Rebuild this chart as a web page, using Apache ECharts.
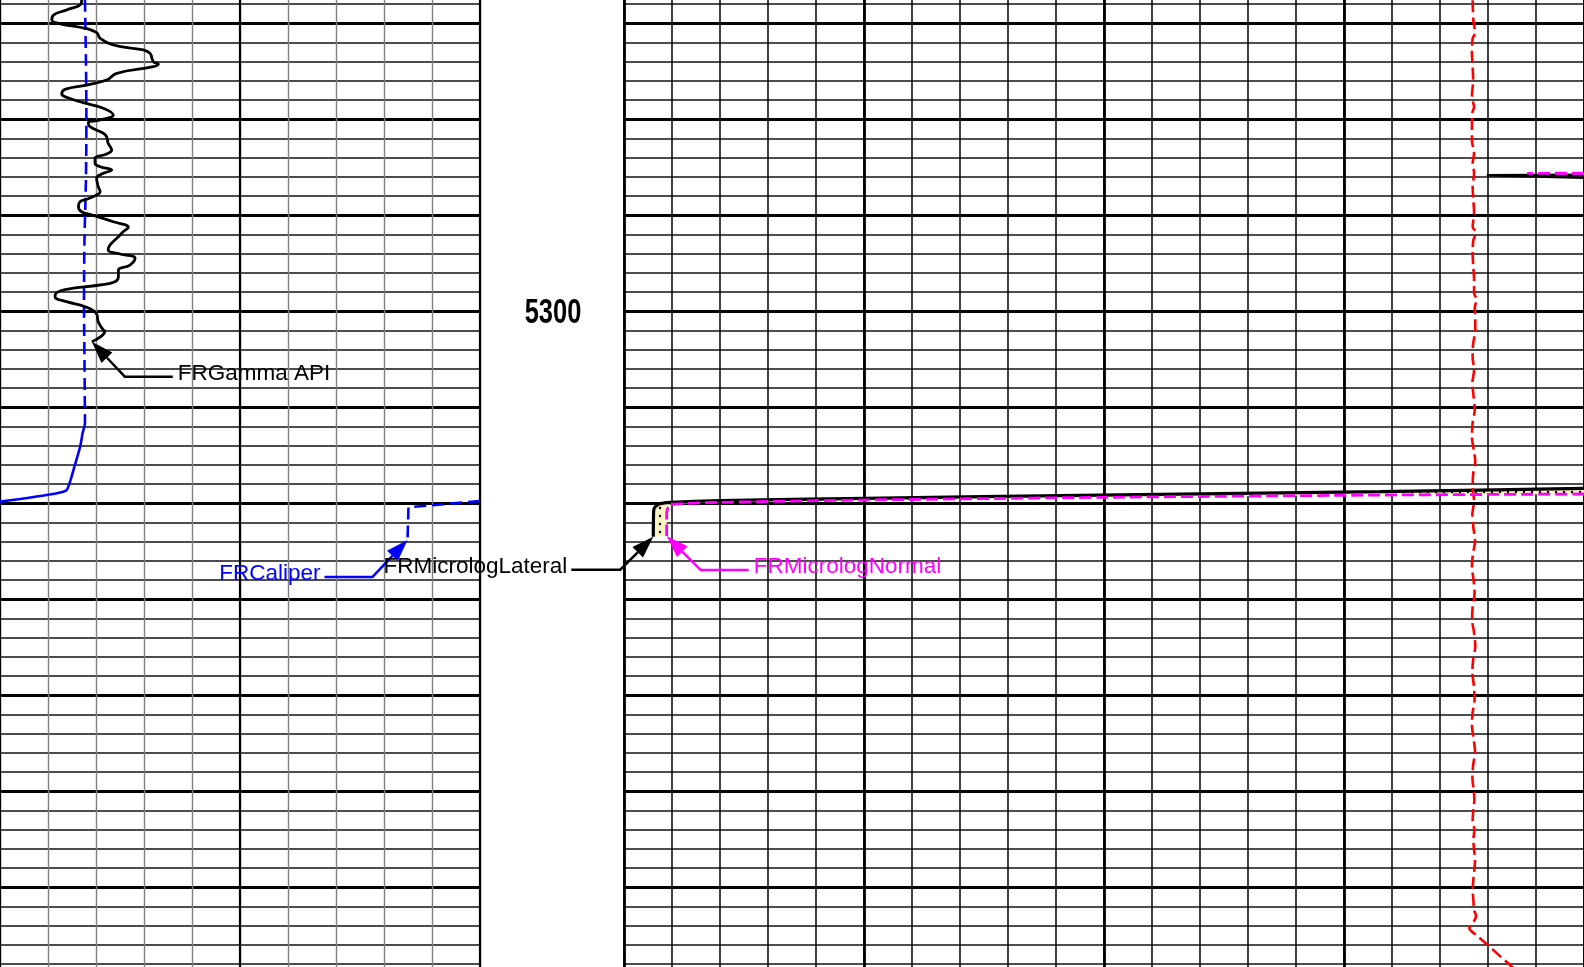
<!DOCTYPE html>
<html>
<head>
<meta charset="utf-8">
<script src="https://cdn.jsdelivr.net/npm/echarts@6/dist/echarts.min.js"></script>
<style>
html,body{margin:0;padding:0;background:#fff;overflow:hidden}
#c{width:1584px;height:967px}
</style>
</head>
<body>
<div id="c"></div>
<script>
// ---------- DATA ----------
// depth axis (ft)
const depthMin = 5260, depthMax = 5370;
const depthLabels = [5300];

// Track 1: FRGamma API  [API, depth]
const gammaAPI = [
 [25.5,5267.57],[25.3,5267.99],[20.8,5268.61],[16.7,5269.14],[16.2,5269.66],[18.2,5270.00],
 [26.6,5270.52],[30.2,5270.98],[31.3,5271.56],[35.4,5272.26],[44.8,5272.78],[46.9,5273.13],
 [47.9,5274.00],[49.5,5274.24],[47.9,5274.52],[36.5,5275.21],[33.3,5275.91],[27.1,5276.43],
 [20.3,5276.88],[19.3,5277.37],[20.8,5277.71],[26.0,5278.27],[32.3,5278.85],[35.4,5279.55],
 [31.3,5280.07],[27.6,5280.35],[28.1,5280.77],[32.3,5281.46],[33.3,5281.81],[33.8,5282.50],
 [34.9,5283.20],[33.3,5283.62],[29.7,5284.06],[29.7,5284.58],[31.3,5284.94],[34.9,5285.28],
 [32.3,5285.63],[30.2,5286.15],[30.7,5287.02],[31.3,5287.54],[30.2,5287.89],[27.1,5288.33],
 [25.0,5288.58],[24.5,5289.11],[25.5,5289.63],[28.7,5289.97],[35.4,5290.67],[40.1,5291.25],
 [38.5,5291.71],[37.0,5292.23],[34.4,5293.09],[33.8,5293.62],[37.5,5294.03],[42.2,5294.48],
 [40.6,5295.18],[37.0,5295.70],[37.0,5296.40],[35.9,5296.92],[31.3,5297.26],[20.8,5297.71],
 [17.7,5298.06],[17.2,5298.48],[20.8,5299.00],[26.6,5299.52],[30.2,5300.28],[30.7,5301.08],
 [32.3,5301.95],[32.8,5302.05],[28.7,5303.17]
];

// Track 1: FRCaliper (in)  [in, depth]
const caliperUpper = [
 [7.77,5267.57],[7.79,5273.82],[7.80,5280.07],[7.79,5286.32],[7.76,5292.57],[7.75,5298.82],
 [7.76,5305.07],[7.77,5311.32]
];
const caliperLower = [
 [7.77,5311.32],[7.77,5311.67],[7.72,5312.71],[7.67,5314.11],[7.56,5316.01],[7.46,5317.75],
 [7.39,5318.62],[7.32,5318.79],[6.97,5319.14],[6.42,5319.55],[6.00,5319.83]
];
const caliperWrap = [
 [16.00,5319.76],[14.51,5320.42],[14.49,5320.52],[14.49,5323.82]
];

// Track 2: Microlog (ohm-m)  [value, depth]
const lateralTop = [[40,5285.78],[35.95,5285.84],[40,5286.10]];
const lateralMain = [
 [40,5318.44],[31.5,5318.79],[19.83,5319.14],[10.04,5319.48],[4.0,5319.73],[1.92,5319.90],
 [1.50,5320.05],[1.33,5320.30],[1.24,5320.65],[1.22,5323.48]
];
const normalTop = [[40,5285.60],[37.63,5285.63],[40,5285.66]];
const normalMain = [
 [40,5319.03],[31.5,5319.14],[19.83,5319.38],[10.04,5319.66],[4.0,5319.90],[1.92,5320.10],
 [1.85,5320.42],[1.78,5320.91],[1.78,5323.41]
];

// Track 2: red dashed curve  [value, depth]
const redCurve = [
 [35.36,5267.6],[35.39,5269.7],[35.46,5271.0],[35.36,5271.6],[35.33,5273.1],[35.36,5274.5],
 [35.38,5275.9],[35.33,5277.7],[35.42,5278.7],[35.35,5279.3],[35.33,5280.8],[35.33,5282.2],
 [35.42,5283.5],[35.36,5284.6],[35.42,5285.6],[35.36,5287.1],[35.39,5288.4],[35.42,5289.8],
 [35.36,5291.2],[35.50,5291.8],[35.39,5292.6],[35.36,5293.9],[35.39,5295.4],[35.42,5296.7],
 [35.42,5298.1],[35.53,5298.8],[35.45,5299.6],[35.47,5300.9],[35.47,5302.0],[35.38,5303.4],
 [35.36,5304.8],[35.42,5306.1],[35.35,5307.5],[35.40,5308.9],[35.45,5310.2],[35.36,5311.6],
 [35.33,5313.0],[35.40,5314.4],[35.47,5315.6],[35.38,5317.0],[35.36,5318.4],[35.42,5319.8],
 [35.35,5321.1],[35.39,5322.5],[35.46,5323.9],[35.37,5325.3],[35.33,5326.6],[35.40,5328.0],
 [35.44,5329.4],[35.36,5330.8],[35.34,5332.1],[35.42,5333.5],[35.47,5334.9],[35.38,5336.3],
 [35.35,5337.6],[35.41,5339.0],[35.44,5340.4],[35.36,5341.8],[35.33,5343.1],[35.40,5344.5],
 [35.46,5345.9],[35.38,5347.3],[35.35,5348.6],[35.41,5350.0],[35.43,5350.9],[35.39,5351.9],
 [35.36,5353.0],[35.43,5354.0],[35.39,5355.1],[35.42,5356.1],[35.46,5357.2],[35.43,5358.2],
 [35.39,5359.2],[35.36,5360.3],[35.39,5361.3],[35.42,5362.4],[35.50,5362.9],[35.45,5363.4],
 [35.28,5363.9],[35.22,5364.3],[35.32,5364.6],[35.53,5365.0],[36.92,5368.1],[37.10,5368.5]
];

// ---------- CHART ----------
const chart = echarts.init(document.getElementById('c'), null, {renderer: 'canvas'});

const GT = -72.7, GH = 1056;
const hidden = {axisLine:{show:false}, axisTick:{show:false}, axisLabel:{show:false}};
function xA(grid, min, max, interval, split) {
  return Object.assign({type:'value', gridIndex:grid, min, max, interval,
    splitLine: split ? {show:true, lineStyle:split} : {show:false}}, hidden);
}
function yA(grid, interval, split) {
  return Object.assign({type:'value', gridIndex:grid, min:depthMin, max:depthMax, inverse:true, interval,
    splitLine: split ? {show:true, lineStyle:split} : {show:false}}, hidden);
}

// dotted yellow pattern
const pc = document.createElement('canvas');
pc.width = 8; pc.height = 8;
const pctx = pc.getContext('2d');
pctx.fillStyle = '#f8f3c2'; pctx.fillRect(0,0,8,8);
pctx.fillStyle = '#000'; pctx.beginPath(); pctx.arc(4,4,1.2,0,Math.PI*2); pctx.fill();

const option = {
  animation:false,
  backgroundColor:'#ffffff',
  grid:[
    {left:0, top:GT, width:480, height:GH, outerBoundsMode:'none', containLabel:false},
    {left:624, top:GT, width:960, height:GH, outerBoundsMode:'none', containLabel:false},
    {left:480, top:GT, width:144, height:GH, outerBoundsMode:'none', containLabel:false}
  ],
  xAxis:[
    xA(0, 0, 150, 15, {color:'#808080', width:1.4}),
    xA(0, 0, 150, 75, {color:'#000', width:2.2}),
    xA(0, 6, 16, 1, null),
    xA(1, 0, 40, 2, {color:'#111', width:1.6}),
    xA(1, 0, 40, 10, {color:'#000', width:2.8}),
    Object.assign(xA(2, 0, 1, 1, null), {show:false})
  ],
  yAxis:[
    yA(0, 2, {color:'#111', width:1.5}),
    yA(0, 10, {color:'#000', width:3}),
    yA(1, 2, {color:'#111', width:1.5}),
    yA(1, 10, {color:'#000', width:3}),
    yA(2, 10, null)
  ],
  series:[
    {name:'FRGamma API', type:'line', xAxisIndex:0, yAxisIndex:0, data:gammaAPI, showSymbol:false,
     smooth:0.45, z:5, lineStyle:{color:'#000', width:2.8}},
    {name:'FRCaliper', type:'line', xAxisIndex:2, yAxisIndex:0, data:caliperUpper, showSymbol:false,
     smooth:0.3, z:4, lineStyle:{color:'#0000ff', width:2.6, type:[12,6]}},
    {name:'FRCaliper low', type:'line', xAxisIndex:2, yAxisIndex:0, data:caliperLower, showSymbol:false,
     smooth:0.2, z:4, lineStyle:{color:'#0000ff', width:2.6}},
    {name:'FRCaliper wrap', type:'line', xAxisIndex:2, yAxisIndex:0, data:caliperWrap, showSymbol:false,
     z:4, lineStyle:{color:'#0000ff', width:2.6, type:[12,6]}},
    {name:'fill', type:'custom', xAxisIndex:3, yAxisIndex:2, data:[[0,depthMin]], z:3, silent:true,
     renderItem:(params, api) => {
       const pts = lateralMain.map(p => api.coord(p)).concat(normalMain.slice().reverse().map(p => api.coord(p)));
       return {type:'polygon', shape:{points:pts}, style:{fill:{image:pc, repeat:'repeat'}}};
     }},
    {name:'FRMicrologLateral', type:'line', xAxisIndex:3, yAxisIndex:2, data:lateralMain, showSymbol:false,
     smooth:0.15, z:6, lineStyle:{color:'#000', width:3.2}},
    {name:'FRMicrologLateral top', type:'line', xAxisIndex:3, yAxisIndex:2, data:lateralTop, showSymbol:false,
     z:6, lineStyle:{color:'#000', width:2.5}},
    {name:'FRMicrologNormal', type:'line', xAxisIndex:3, yAxisIndex:2, data:normalMain, showSymbol:false,
     smooth:0.15, z:7, lineStyle:{color:'#ff00ff', width:2.8, type:[12,5]}},
    {name:'FRMicrologNormal top', type:'line', xAxisIndex:3, yAxisIndex:2, data:normalTop, showSymbol:false,
     z:7, lineStyle:{color:'#ff00ff', width:2.8, type:[12,5]}},
    {name:'Red', type:'line', xAxisIndex:3, yAxisIndex:2, data:redCurve, showSymbol:false,
     smooth:0.3, z:6, lineStyle:{color:'#ff0000', width:2.6, type:[12,5]}}
  ]
};
chart.setOption(option);

// ---------- annotations (leaders from curve ends) ----------
const notes = [
  {text:'FRGamma API', series:0, data:gammaAPI, color:'#000000', elbow:[33,35], end:[81,35], side:'right'},
  {text:'FRCaliper', series:3, data:caliperWrap, color:'#0000ff', elbow:[-35,37], end:[-83,37], side:'left'},
  {text:'FRMicrologLateral', series:5, data:lateralMain, color:'#000000', elbow:[-33,33], end:[-82,33], side:'left'},
  {text:'FRMicrologNormal', series:7, data:normalMain, color:'#ff00ff', elbow:[34,34], end:[82,34], side:'right'}
];
const graphics = [];
notes.forEach(n => {
  const tip = chart.convertToPixel({seriesIndex:n.series}, n.data[n.data.length-1]);
  const E = [tip[0]+n.elbow[0], tip[1]+n.elbow[1]];
  const P = [tip[0]+n.end[0], tip[1]+n.end[1]];
  const dx = tip[0]-E[0], dy = tip[1]-E[1], L = Math.hypot(dx,dy);
  const ux = dx/L, uy = dy/L, len = 22, w = 7.5;
  const B = [tip[0]-ux*len, tip[1]-uy*len];
  graphics.push({type:'polyline', z:20, shape:{points:[B,E,P]}, style:{stroke:n.color, lineWidth:2.5, fill:null}});
  graphics.push({type:'polygon', z:20, shape:{points:[tip,[B[0]-uy*w,B[1]+ux*w],[B[0]+uy*w,B[1]-ux*w]]}, style:{fill:n.color}});
  graphics.push({type:'text', z:21, style:{
    text:n.text, x:P[0]+(n.side==='right'?5:-4), y:P[1]-3,
    fill:n.color, font:'22.5px "Liberation Sans", Arial, sans-serif',
    textAlign:n.side==='right'?'left':'right', align:n.side==='right'?'left':'right',
    textVerticalAlign:'middle', verticalAlign:'middle'}});
});

// depth labels in the depth track (condensed bold)
const depthCenterX = chart.convertToPixel({xAxisIndex:5}, 0.5);
depthLabels.forEach(d => {
  const y = chart.convertToPixel({yAxisIndex:4}, d);
  graphics.push({type:'text', z:21, x:depthCenterX + 1, y:y + 2, scaleX:0.82, scaleY:1.12, style:{
    text:String(d), x:0, y:0, fill:'#000',
    font:'bold 31px "Liberation Sans", Arial, sans-serif',
    textAlign:'center', align:'center', textVerticalAlign:'middle', verticalAlign:'middle'}});
});
chart.setOption({graphic:graphics});
</script>
</body>
</html>
